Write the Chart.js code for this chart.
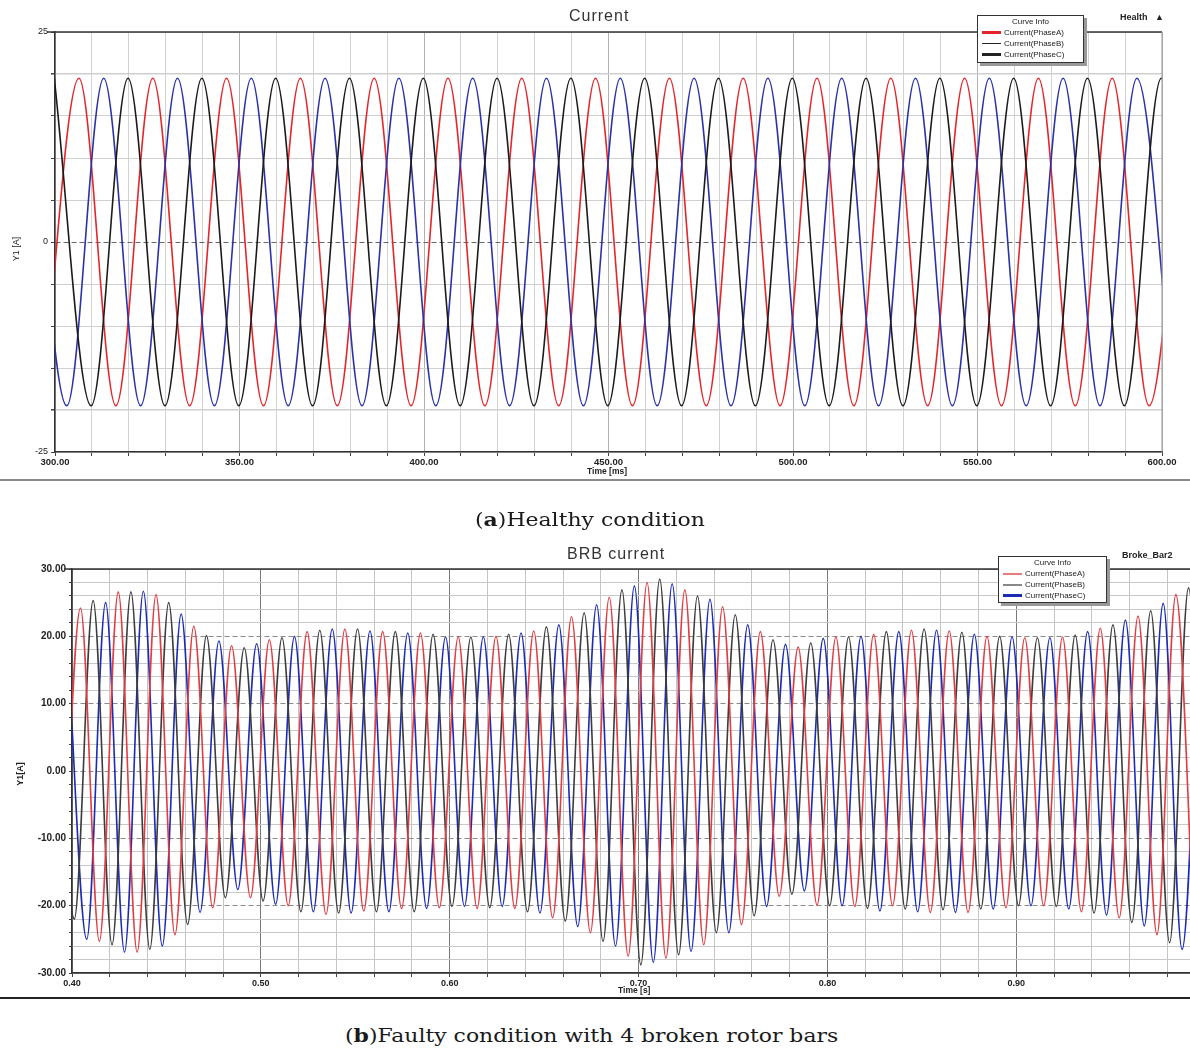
<!DOCTYPE html>
<html><head><meta charset="utf-8">
<script src="https://cdn.jsdelivr.net/npm/chart.js@4.4.1/dist/chart.umd.min.js"></script>
<style>
body{margin:0;background:#fff;width:1190px;height:1053px;position:relative;overflow:hidden;font-family:'Liberation Sans',Arial,sans-serif;color:#222;}
canvas{position:absolute;left:0;}
.t{position:absolute;white-space:nowrap;}
.ttl{position:absolute;white-space:nowrap;font-size:16px;letter-spacing:1px;color:#333;}
.leg{position:absolute;background:#fff;border:1px solid #333;box-shadow:3px 3px 0 #999;font-size:8px;line-height:11px;}
.leg .lh{text-align:center;}
.leg .li{position:relative;padding-left:26px;}
.leg .ls{position:absolute;left:4px;top:5px;width:19px;}
.cap{position:absolute;font-family:'DejaVu Serif','Liberation Serif',serif;font-size:19px;white-space:nowrap;transform-origin:0 50%;color:#1a1a1a;}
.sep{position:absolute;left:0;width:1190px;}
</style></head>
<body>
<canvas id="cA" width="1190" height="480" style="top:0"></canvas>
<canvas id="cB" width="1190" height="460" style="top:540px"></canvas>

<div class="ttl" style="left:569px;top:7px;">Current</div>
<div class="t" style="left:1120px;top:12px;font-size:9px;font-weight:bold;">Health &nbsp;&nbsp;&#9650;</div>
<div class="leg" style="left:977px;top:15px;width:105px;height:46px;">
  <div class="lh">Curve Info</div>
  <div class="li"><span class="ls" style="border-top:3px solid #e4262b;top:4px"></span>Current(PhaseA)</div>
  <div class="li"><span class="ls" style="border-top:1px solid #222"></span>Current(PhaseB)</div>
  <div class="li"><span class="ls" style="border-top:3px solid #222;top:4px"></span>Current(PhaseC)</div>
</div>
<div class="t" style="left:4px;top:244px;font-size:9px;transform:rotate(-90deg);transform-origin:50% 50%;">Y1 [A]</div>
<div class="t" style="left:587px;top:466px;font-size:8.5px;font-weight:bold;">Time [ms]</div>
<div class="sep" style="top:479px;height:2px;background:#8a8a8a;"></div>
<div class="cap" id="capA" style="left:475px;top:508px;">(<b>a</b>)Healthy condition</div>

<div class="ttl" style="left:567px;top:545px;">BRB current</div>
<div class="t" style="left:1122px;top:550px;font-size:9px;font-weight:bold;">Broke_Bar2</div>
<div class="leg" style="left:998px;top:556px;width:107px;height:45px;">
  <div class="lh">Curve Info</div>
  <div class="li"><span class="ls" style="border-top:2px solid #e87b7b"></span>Current(PhaseA)</div>
  <div class="li"><span class="ls" style="border-top:2px solid #888"></span>Current(PhaseB)</div>
  <div class="li"><span class="ls" style="border-top:3px solid #1c2bb5;top:4px"></span>Current(PhaseC)</div>
</div>
<div class="t" style="left:8px;top:769px;font-size:9px;font-weight:bold;transform:rotate(-90deg);transform-origin:50% 50%;">Y1[A]</div>
<div class="t" style="left:618px;top:985px;font-size:8.5px;font-weight:bold;">Time [s]</div>
<div class="sep" style="top:997px;height:2px;background:#222;"></div>
<div class="cap" id="capB" style="left:345px;top:1024px;">(<b>b</b>)Faulty condition with 4 broken rotor bars</div>

<script>
// ---------- Panel (a): healthy condition, extrema of each phase current [ms, A] ----------
const tA_phaseA = [296.5,306.5,316.5,326.5,336.5,346.5,356.5,366.5,376.5,386.5,396.5,406.5,416.5,426.5,436.5,446.5,456.5,466.5,476.5,486.5,496.5,506.5,516.5,526.5,536.5,546.5,556.5,566.5,576.5,586.5,596.5,606.5];
const vA_phaseA = [-19.5,19.5,-19.5,19.5,-19.5,19.5,-19.5,19.5,-19.5,19.5,-19.5,19.5,-19.5,19.5,-19.5,19.5,-19.5,19.5,-19.5,19.5,-19.5,19.5,-19.5,19.5,-19.5,19.5,-19.5,19.5,-19.5,19.5,-19.5,19.5];
const tA_phaseC = [293.2,303.2,313.2,323.2,333.2,343.2,353.2,363.2,373.2,383.2,393.2,403.2,413.2,423.2,433.2,443.2,453.2,463.2,473.2,483.2,493.2,503.2,513.2,523.2,533.2,543.2,553.2,563.2,573.2,583.2,593.2,603.2];
const vA_phaseC = [19.5,-19.5,19.5,-19.5,19.5,-19.5,19.5,-19.5,19.5,-19.5,19.5,-19.5,19.5,-19.5,19.5,-19.5,19.5,-19.5,19.5,-19.5,19.5,-19.5,19.5,-19.5,19.5,-19.5,19.5,-19.5,19.5,-19.5,19.5,-19.5];
const tA_phaseB = [299.8,309.8,319.8,329.8,339.8,349.8,359.8,369.8,379.8,389.8,399.8,409.8,419.8,429.8,439.8,449.8,459.8,469.8,479.8,489.8,499.8,509.8,519.8,529.8,539.8,549.8,559.8,569.8,579.8,589.8,599.8,609.8];
const vA_phaseB = [19.5,-19.5,19.5,-19.5,19.5,-19.5,19.5,-19.5,19.5,-19.5,19.5,-19.5,19.5,-19.5,19.5,-19.5,19.5,-19.5,19.5,-19.5,19.5,-19.5,19.5,-19.5,19.5,-19.5,19.5,-19.5,19.5,-19.5,19.5,-19.5];
const xTicksA = [300, 350, 400, 450, 500, 550, 600];
const yTicksA = [25, 0, -25];

// ---------- Panel (b): 4 broken rotor bars, extrema of each phase current [s, A] ----------
const tB_phaseA = [0.3945,0.4045,0.4145,0.4245,0.4345,0.4445,0.4545,0.4645,0.4745,0.4845,0.4945,0.5045,0.5145,0.5245,0.5345,0.5445,0.5545,0.5645,0.5745,0.5845,0.5945,0.6045,0.6145,0.6245,0.6345,0.6445,0.6545,0.6645,0.6745,0.6845,0.6945,0.7045,0.7145,0.7245,0.7345,0.7445,0.7545,0.7645,0.7745,0.7845,0.7945,0.8045,0.8145,0.8245,0.8345,0.8445,0.8545,0.8645,0.8745,0.8845,0.8945,0.9045,0.9145,0.9245,0.9345,0.9445,0.9545,0.9645,0.9745,0.9845,0.9945];
const vB_phaseA = [-24.0,24.2,-25.3,26.6,-26.9,26.2,-24.3,21.5,-20.3,18.6,-18.8,19.5,-20.0,20.7,-21.3,21.1,-20.8,20.7,-20.4,20.5,-20.3,19.9,-20.4,20.0,-20.4,20.8,-21.8,22.9,-24.0,25.8,-27.5,28.0,-27.8,26.9,-25.8,24.4,-22.8,20.7,-18.6,18.4,-19.9,19.9,-20.1,20.3,-20.0,20.9,-21.0,20.8,-21.0,20.0,-20.3,19.8,-20.0,19.9,-20.9,21.2,-21.8,23.0,-24.3,26.2,-27.0];
const tB_phaseB = [0.3912,0.4012,0.4112,0.4212,0.4312,0.4412,0.4512,0.4612,0.4712,0.4812,0.4912,0.5012,0.5112,0.5212,0.5312,0.5412,0.5512,0.5612,0.5712,0.5812,0.5912,0.6012,0.6112,0.6212,0.6312,0.6412,0.6512,0.6612,0.6712,0.6812,0.6912,0.7012,0.7112,0.7212,0.7312,0.7412,0.7512,0.7612,0.7712,0.7812,0.7912,0.8012,0.8112,0.8212,0.8312,0.8412,0.8512,0.8612,0.8712,0.8812,0.8912,0.9012,0.9112,0.9212,0.9312,0.9412,0.9512,0.9612,0.9712,0.9812,0.9912,1.0012];
const vB_phaseB = [22.0,-22.0,25.3,-25.8,26.6,-26.5,25.0,-22.8,20.1,-18.8,18.3,-19.3,19.8,-20.9,20.9,-21.1,21.1,-20.9,20.7,-20.9,20.3,-20.1,19.9,-20.3,20.3,-20.9,21.4,-22.3,23.5,-25.3,26.9,-28.8,28.5,-27.3,26.0,-24.0,23.2,-21.5,19.5,-18.3,19.0,-20.0,19.9,-20.4,20.7,-20.5,21.1,-20.6,20.6,-20.5,20.0,-20.0,19.8,-20.1,20.2,-21.1,21.7,-22.5,23.8,-25.5,27.2,-27.5];
const tB_phaseC = [0.3978,0.4078,0.4178,0.4278,0.4378,0.4478,0.4578,0.4678,0.4778,0.4878,0.4978,0.5078,0.5178,0.5278,0.5378,0.5478,0.5578,0.5678,0.5778,0.5878,0.5978,0.6078,0.6178,0.6278,0.6378,0.6478,0.6578,0.6678,0.6778,0.6878,0.6978,0.7078,0.7178,0.7278,0.7378,0.7478,0.7578,0.7678,0.7778,0.7878,0.7978,0.8078,0.8178,0.8278,0.8378,0.8478,0.8578,0.8678,0.8778,0.8878,0.8978,0.9078,0.9178,0.9278,0.9378,0.9478,0.9578,0.9678,0.9778,0.9878,0.9978];
const vB_phaseC = [18.0,-25.0,25.0,-26.9,26.7,-26.0,23.3,-21.0,19.3,-17.6,18.9,-19.8,20.0,-20.9,21.1,-21.1,20.8,-20.9,20.5,-20.4,19.9,-20.1,19.9,-20.1,20.5,-21.1,21.7,-23.1,24.7,-26.0,27.5,-28.4,27.8,-26.8,25.5,-24.0,21.7,-20.1,18.8,-17.8,19.7,-20.0,20.0,-20.8,20.7,-20.9,20.9,-21.0,20.3,-20.5,19.9,-20.0,19.8,-20.5,20.7,-21.4,22.4,-23.0,24.9,-26.5,27.5];
const xTicksB = [0.4, 0.5, 0.6, 0.7, 0.8, 0.9];
const yTicksB = [30, 20, 10, 0, -10, -20, -30];

// ---------- helpers ----------
const pts = (t, v) => t.map((x, i) => ({x, y: v[i]}));
const near = (v, list) => list.some(l => Math.abs(v - l) < 1e-6);
const frame = {
  id: 'frame',
  afterDraw(c, args, o) {
    const a = c.chartArea, ctx = c.ctx;
    ctx.save();
    ctx.lineWidth = 1.5; ctx.strokeStyle = o.top || '#333';
    ctx.beginPath(); ctx.moveTo(a.left - 8, a.top); ctx.lineTo(a.right, a.top); ctx.stroke();
    if (o.right) { ctx.lineWidth = 1; ctx.strokeStyle = o.right; ctx.beginPath(); ctx.moveTo(a.right, a.top); ctx.lineTo(a.right, a.bottom); ctx.stroke(); }
    ctx.restore();
  }
};
const tickFont = {family: "'Liberation Sans', Arial, sans-serif", size: 10, weight: 'bold'};

// ---------- chart (a) ----------
new Chart(document.getElementById('cA'), {
  type: 'line',
  data: {datasets: [
    {label: 'Current(PhaseB)', data: pts(tA_phaseB, vA_phaseB), borderColor: '#1b1b1b'},
    {label: 'Current(PhaseC)', data: pts(tA_phaseC, vA_phaseC), borderColor: '#2a32a8'},
    {label: 'Current(PhaseA)', data: pts(tA_phaseA, vA_phaseA), borderColor: '#e4262b'}
  ]},
  options: {
    responsive: false, animation: false, events: [],
    layout: {padding: {top: 32, right: 28, left: 0, bottom: 0}},
    plugins: {legend: {display: false}, tooltip: {enabled: false}, frame: {top: '#333', right: '#999'}},
    elements: {point: {radius: 0}, line: {borderWidth: 1.6, cubicInterpolationMode: 'monotone'}},
    scales: {
      x: {type: 'linear', min: 300, max: 600,
        afterFit(s) { s.height = 28; },
        ticks: {stepSize: 10, autoSkip: false, maxRotation: 0, padding: 1, color: '#222', font: {...tickFont, size: 9.5},
          callback: v => near(v, xTicksA) ? v.toFixed(2) : ''},
        grid: {color: c => (c.tick && Math.abs(c.tick.value % 50) < 1e-6) ? '#b0b0b0' : '#d2d2d2', tickLength: 4, tickColor: '#444', lineWidth: 1},
        border: {color: '#333', width: 1.5}},
      y: {min: -25, max: 25,
        afterFit(s) { s.width = 55; },
        ticks: {stepSize: 5, autoSkip: false, padding: 3, color: '#222', font: {family: "'Liberation Sans', Arial, sans-serif", size: 9},
          callback: v => near(v, yTicksA) ? String(v) : ''},
        grid: {color: c => (c.tick && c.tick.value === 0) ? '#666' : '#cfcfcf', tickLength: 4, tickColor: '#444', lineWidth: c => (c.tick && Math.abs(c.tick.value) === 20) ? 1.5 : 1},
        border: {color: '#333', width: 1.5, dash: c => (c.tick && c.tick.value === 0) ? [5, 3] : []}}
    }
  },
  plugins: [frame]
});

// ---------- chart (b) ----------
new Chart(document.getElementById('cB'), {
  type: 'line',
  data: {datasets: [
    {label: 'Current(PhaseA)', data: pts(tB_phaseA, vB_phaseA), borderColor: '#e03c42'},
    {label: 'Current(PhaseB)', data: pts(tB_phaseB, vB_phaseB), borderColor: '#3c3c3c'},
    {label: 'Current(PhaseC)', data: pts(tB_phaseC, vB_phaseC), borderColor: '#1c2bb5'}
  ]},
  options: {
    responsive: false, animation: false, events: [],
    layout: {padding: {top: 29, right: 0, left: 0, bottom: 0}},
    plugins: {legend: {display: false}, tooltip: {enabled: false}, frame: {top: '#333'}},
    elements: {point: {radius: 0}, line: {borderWidth: 1.6, cubicInterpolationMode: 'monotone'}},
    scales: {
      x: {type: 'linear', min: 0.4, max: 0.992,
        afterFit(s) { s.height = 27; },
        ticks: {stepSize: 0.02, autoSkip: false, includeBounds: false, maxRotation: 0, padding: 1, color: '#222', font: {...tickFont, size: 9},
          callback: v => near(v, xTicksB) ? v.toFixed(2) : ''},
        grid: {color: c => (c.tick && near(c.tick.value, xTicksB)) ? '#7a7a7a' : '#c4c4c4', tickLength: 4, tickColor: '#444'},
        border: {color: '#333', width: 1.5}},
      y: {min: -30, max: 30,
        afterFit(s) { s.width = 72; },
        ticks: {stepSize: 2, autoSkip: false, padding: 3, color: '#222', font: tickFont,
          callback: v => near(v, yTicksB) ? v.toFixed(2) : ''},
        grid: {color: c => (c.tick && near(c.tick.value, yTicksB)) ? '#8a8a8a' : '#c8c8c8', tickLength: c => (c.tick && near(c.tick.value, yTicksB)) ? 5 : 3, tickColor: '#444'},
        border: {color: '#333', width: 1.5, dash: c => (c.tick && near(c.tick.value, yTicksB) && Math.abs(c.tick.value) < 29) ? [5, 3] : []}}
    }
  },
  plugins: [frame]
});

// fit captions to reference widths
function fit(id, w) { const e = document.getElementById(id); const r = w / e.offsetWidth; e.style.transform = 'scaleX(' + r + ')'; }
fit('capA', 230); fit('capB', 493);
</script>
</body></html>
